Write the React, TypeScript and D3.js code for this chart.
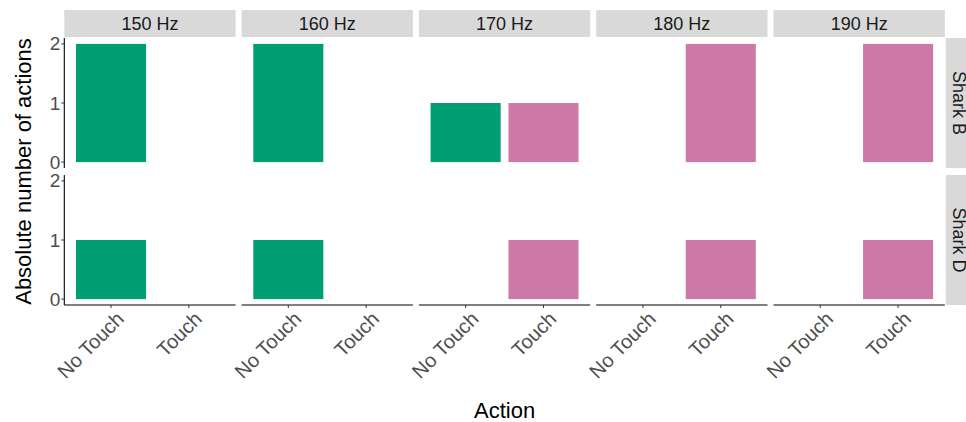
import React from "react";
import * as d3 from "d3";

// Facet levels and counts of each action per shark and frequency
const frequencies = ["150 Hz", "160 Hz", "170 Hz", "180 Hz", "190 Hz"];
const sharks = ["Shark B", "Shark D"];
const actions = ["No Touch", "Touch"];
const yTicks = [0, 1, 2];

// counts per frequency: [No Touch, Touch]
const sharkBCounts = [
  [2, 0],
  [2, 0],
  [1, 1],
  [0, 2],
  [0, 2],
];
const sharkDCounts = [
  [1, 0],
  [1, 0],
  [0, 1],
  [0, 1],
  [0, 1],
];
const countsBySharks = [sharkBCounts, sharkDCounts];

const actionColors = ["#009E73", "#CC79A7"];

const W = 966;
const H = 422;
const left = 64.3;
const panelW = 171.3;
const gapX = 6;
const panelH = 130;
const rowTops = [38, 175];
const stripTop = 10;
const stripH = 27;
const font = "'Liberation Sans', Arial, sans-serif";

export default function App() {
  // discrete x: 0.6 units of expansion on each side, bars 0.9 units wide
  const x = d3
    .scalePoint<string>()
    .domain(actions)
    .range([panelW * (0.6 / 2.2), panelW * (1.6 / 2.2)]);
  const unit = panelW / 2.2;
  const barW = unit * 0.9;

  const y = d3.scaleLinear().domain([-0.1, 2.1]).range([panelH, 0]);

  const totalW = frequencies.length * panelW + (frequencies.length - 1) * gapX;

  return (
    <svg
      width={W}
      height={H}
      style={{ position: "absolute", left: 0, top: 0, background: "#fff" }}
      fontFamily={font}
    >
      {frequencies.map((f, c) => {
        const px = left + c * (panelW + gapX);
        return (
          <g key={f}>
            <rect x={px} y={stripTop} width={panelW} height={stripH} fill="#D9D9D9" />
            <text
              x={px + panelW / 2}
              y={stripTop + stripH / 2}
              textAnchor="middle"
              dominantBaseline="central"
              fontSize={18}
              fill="#1A1A1A"
            >
              {f}
            </text>
            {sharks.map((s, r) => {
              const py = rowTops[r];
              const vals = countsBySharks[r][c];
              return (
                <g key={s} transform={`translate(${px},${py})`}>
                  {vals.map((v, i) =>
                    v > 0 ? (
                      <rect
                        key={i}
                        x={(x(actions[i]) as number) - barW / 2}
                        y={y(v)}
                        width={barW}
                        height={y(0) - y(v)}
                        fill={actionColors[i]}
                      />
                    ) : null
                  )}
                  {c === 0 && (
                    <g>
                      <line x1={0} x2={0} y1={0} y2={panelH} stroke="#000" strokeWidth={1.1} />
                      {yTicks.map((t) => (
                        <g key={t}>
                          <line x1={-3} x2={0} y1={y(t)} y2={y(t)} stroke="#333" strokeWidth={1} />
                          <text
                            x={-4}
                            y={y(t)}
                            textAnchor="end"
                            dominantBaseline="central"
                            fontSize={19}
                            fill="#4D4D4D"
                          >
                            {t}
                          </text>
                        </g>
                      ))}
                    </g>
                  )}
                  {r === sharks.length - 1 && (
                    <g>
                      <line x1={0} x2={panelW} y1={panelH} y2={panelH} stroke="#000" strokeWidth={1.1} />
                      {actions.map((a) => (
                        <g key={a}>
                          <line
                            x1={x(a)}
                            x2={x(a)}
                            y1={panelH}
                            y2={panelH + 3}
                            stroke="#333"
                            strokeWidth={1}
                          />
                          <text
                            transform={`translate(${(x(a) as number) + 4},${panelH + 5}) rotate(-45)`}
                            textAnchor="end"
                            dy="0.72em"
                            fontSize={20}
                            fill="#4D4D4D"
                          >
                            {a}
                          </text>
                        </g>
                      ))}
                    </g>
                  )}
                </g>
              );
            })}
          </g>
        );
      })}
      {sharks.map((s, r) => {
        const sx = left + totalW + 1;
        return (
          <g key={s}>
            <rect x={sx} y={rowTops[r]} width={W - sx} height={panelH} fill="#D9D9D9" />
            <text
              transform={`translate(${sx + 13},${rowTops[r] + panelH / 2}) rotate(90)`}
              textAnchor="middle"
              dominantBaseline="central"
              fontSize={18}
              fill="#1A1A1A"
            >
              {s}
            </text>
          </g>
        );
      })}
      <text
        transform={`translate(31,${(rowTops[0] + rowTops[1] + panelH) / 2}) rotate(-90)`}
        textAnchor="middle"
        fontSize={22}
        fill="#000"
      >
        Absolute number of actions
      </text>
      <text x={left + totalW / 2} y={418} textAnchor="middle" fontSize={22} fill="#000">
        Action
      </text>
    </svg>
  );
}
